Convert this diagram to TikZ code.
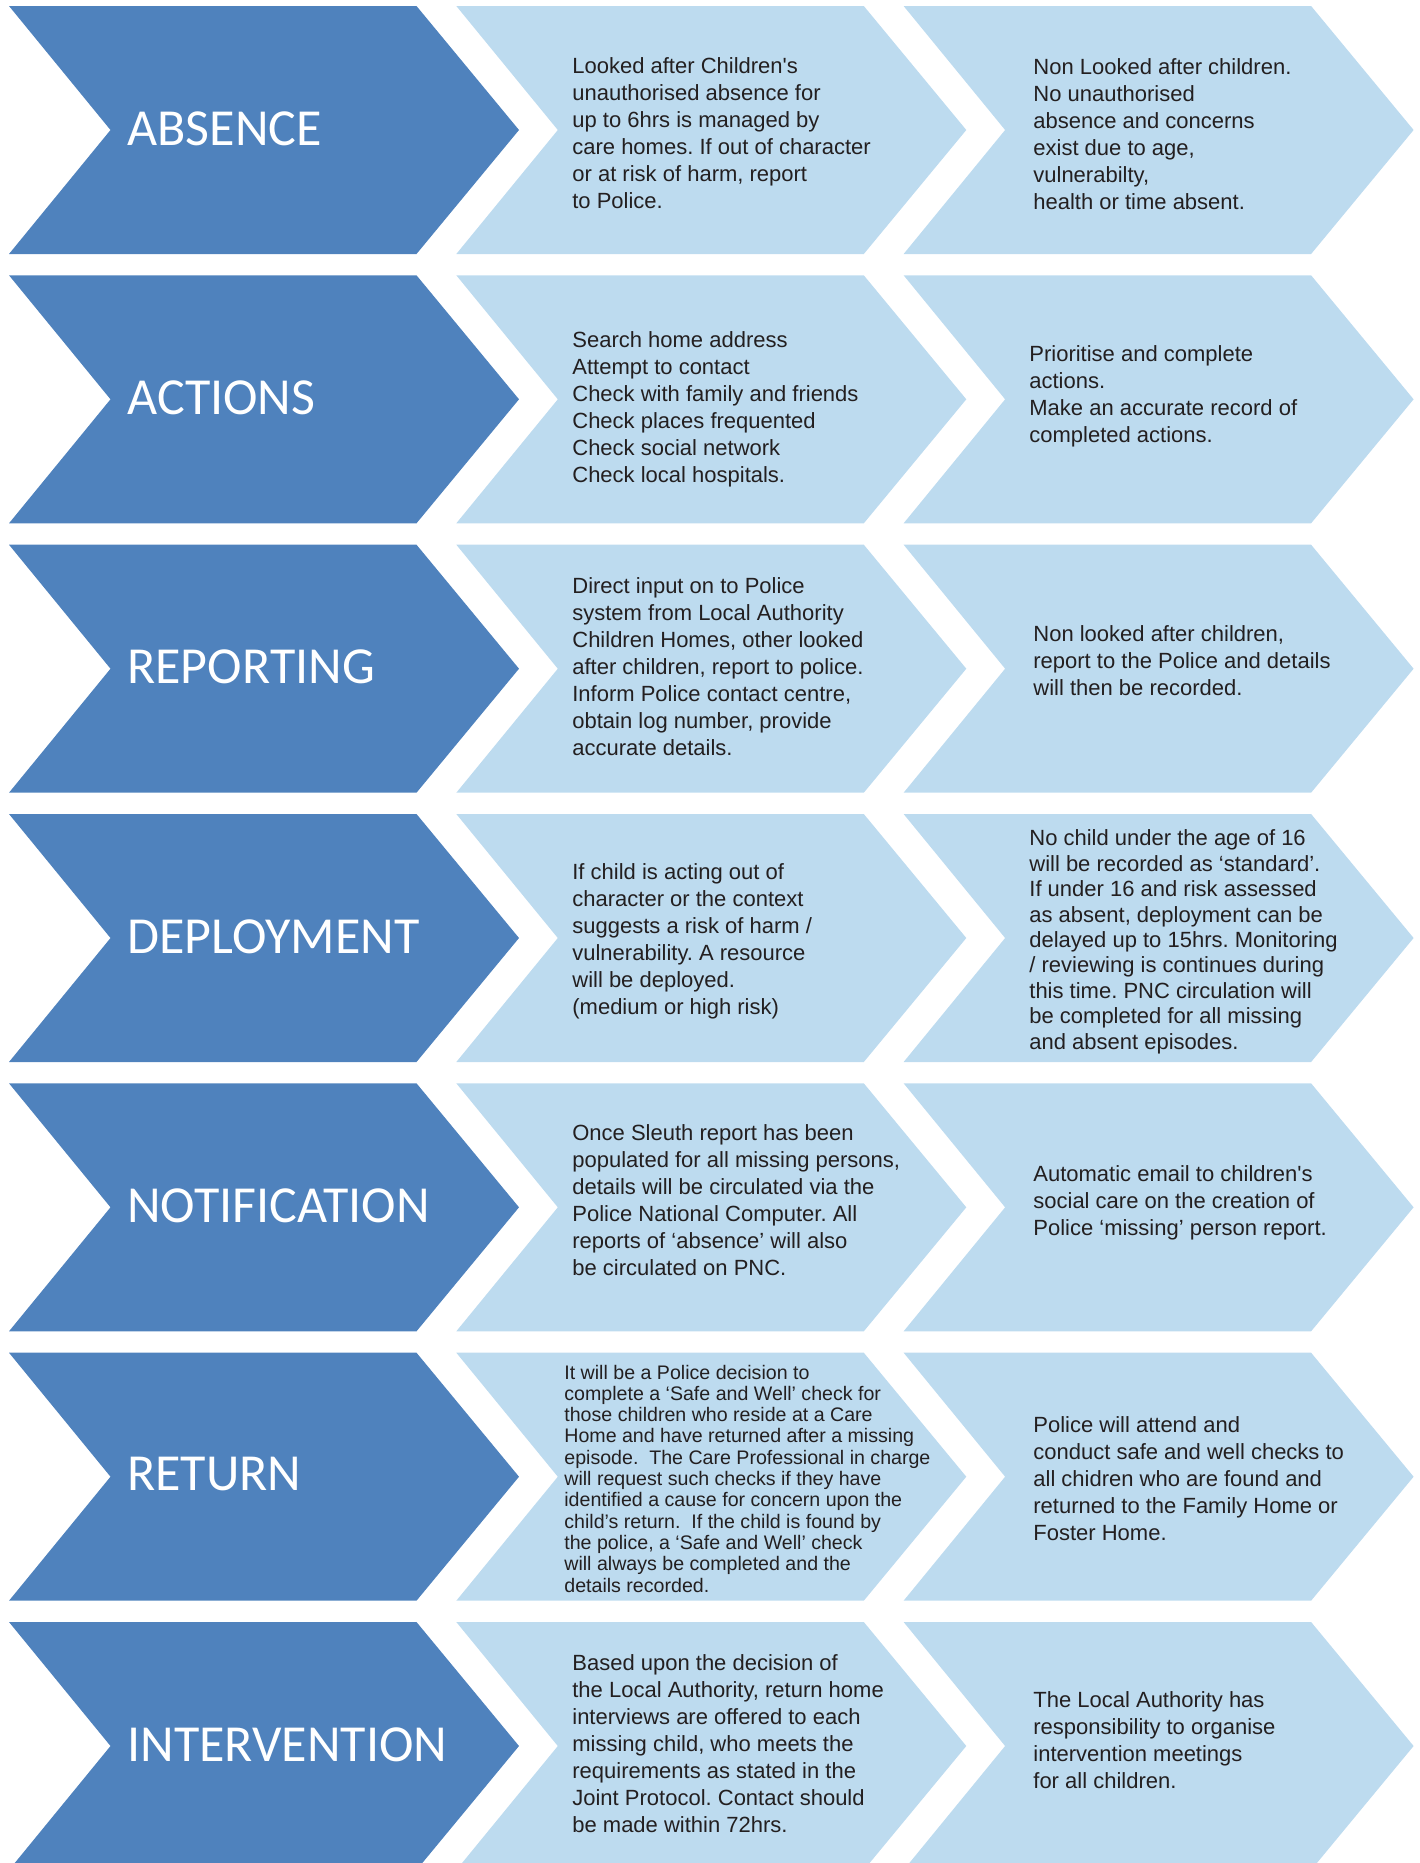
\documentclass[tikz,border=0pt]{standalone}
\usepackage{tikz}
\usepackage{fontspec}
\setmainfont{Liberation Sans}
\newfontfamily\headfont{Carlito}
\frenchspacing
\definecolor{darkchev}{RGB}{79,130,189}
\definecolor{lightchev}{RGB}{189,219,239}
\definecolor{bodygray}{RGB}{35,31,32}
\tikzset{every picture/.style={line width=0.75pt}}
\tikzset{
  headchev/.style={fill=darkchev, draw=none},
  infochev/.style={fill=lightchev, draw=none},
  headlabel/.style={font=\headfont\fontsize{52}{52}\selectfont, text=white, inner sep=0pt, anchor=base west},
  infolabel/.style={font=\fontsize{22}{27}\selectfont, text=bodygray, align=left, inner sep=0pt, anchor=base west},
}

\begin{document}
\begin{tikzpicture}[x=1pt,y=1pt,yscale=-1,xscale=1]
		\useasboundingbox (0,0) rectangle (1420,1863);
		
		%Shape: Chevron [row: absence]
		\draw [headchev] (9,6) -- ++(407.5,0) -- ++(102.5,124) -- ++(-102.5,124) -- ++(-407.5,0) -- ++(101.5,-124) -- cycle ;
		\draw [infochev] (456.3,6) -- ++(407.5,0) -- ++(102.5,124) -- ++(-102.5,124) -- ++(-407.5,0) -- ++(101.5,-124) -- cycle ;
		\draw [infochev] (903.6,6) -- ++(407.5,0) -- ++(102.5,124) -- ++(-102.5,124) -- ++(-407.5,0) -- ++(101.5,-124) -- cycle ;
		%Shape: Chevron [row: actions]
		\draw [headchev] (9,275.3) -- ++(407.5,0) -- ++(102.5,124) -- ++(-102.5,124) -- ++(-407.5,0) -- ++(101.5,-124) -- cycle ;
		\draw [infochev] (456.3,275.3) -- ++(407.5,0) -- ++(102.5,124) -- ++(-102.5,124) -- ++(-407.5,0) -- ++(101.5,-124) -- cycle ;
		\draw [infochev] (903.6,275.3) -- ++(407.5,0) -- ++(102.5,124) -- ++(-102.5,124) -- ++(-407.5,0) -- ++(101.5,-124) -- cycle ;
		%Shape: Chevron [row: reporting]
		\draw [headchev] (9,544.7) -- ++(407.5,0) -- ++(102.5,124) -- ++(-102.5,124) -- ++(-407.5,0) -- ++(101.5,-124) -- cycle ;
		\draw [infochev] (456.3,544.7) -- ++(407.5,0) -- ++(102.5,124) -- ++(-102.5,124) -- ++(-407.5,0) -- ++(101.5,-124) -- cycle ;
		\draw [infochev] (903.6,544.7) -- ++(407.5,0) -- ++(102.5,124) -- ++(-102.5,124) -- ++(-407.5,0) -- ++(101.5,-124) -- cycle ;
		%Shape: Chevron [row: deployment]
		\draw [headchev] (9,814) -- ++(407.5,0) -- ++(102.5,124) -- ++(-102.5,124) -- ++(-407.5,0) -- ++(101.5,-124) -- cycle ;
		\draw [infochev] (456.3,814) -- ++(407.5,0) -- ++(102.5,124) -- ++(-102.5,124) -- ++(-407.5,0) -- ++(101.5,-124) -- cycle ;
		\draw [infochev] (903.6,814) -- ++(407.5,0) -- ++(102.5,124) -- ++(-102.5,124) -- ++(-407.5,0) -- ++(101.5,-124) -- cycle ;
		%Shape: Chevron [row: notification]
		\draw [headchev] (9,1083.3) -- ++(407.5,0) -- ++(102.5,124) -- ++(-102.5,124) -- ++(-407.5,0) -- ++(101.5,-124) -- cycle ;
		\draw [infochev] (456.3,1083.3) -- ++(407.5,0) -- ++(102.5,124) -- ++(-102.5,124) -- ++(-407.5,0) -- ++(101.5,-124) -- cycle ;
		\draw [infochev] (903.6,1083.3) -- ++(407.5,0) -- ++(102.5,124) -- ++(-102.5,124) -- ++(-407.5,0) -- ++(101.5,-124) -- cycle ;
		%Shape: Chevron [row: return]
		\draw [headchev] (9,1352.7) -- ++(407.5,0) -- ++(102.5,124) -- ++(-102.5,124) -- ++(-407.5,0) -- ++(101.5,-124) -- cycle ;
		\draw [infochev] (456.3,1352.7) -- ++(407.5,0) -- ++(102.5,124) -- ++(-102.5,124) -- ++(-407.5,0) -- ++(101.5,-124) -- cycle ;
		\draw [infochev] (903.6,1352.7) -- ++(407.5,0) -- ++(102.5,124) -- ++(-102.5,124) -- ++(-407.5,0) -- ++(101.5,-124) -- cycle ;
		%Shape: Chevron [row: intervention]
		\draw [headchev] (9,1622) -- ++(407.5,0) -- ++(102.5,124) -- ++(-102.5,124) -- ++(-407.5,0) -- ++(101.5,-124) -- cycle ;
		\draw [infochev] (456.3,1622) -- ++(407.5,0) -- ++(102.5,124) -- ++(-102.5,124) -- ++(-407.5,0) -- ++(101.5,-124) -- cycle ;
		\draw [infochev] (903.6,1622) -- ++(407.5,0) -- ++(102.5,124) -- ++(-102.5,124) -- ++(-407.5,0) -- ++(101.5,-124) -- cycle ;
		
		%Headings
		\node [headlabel] (absence) at (127,145) {ABSENCE};
		\node [headlabel] (actions) at (127,414.3) {ACTIONS};
		\node [headlabel] (reporting) at (127,683.7) {REPORTING};
		\node [headlabel] (deployment) at (127,953) {DEPLOYMENT};
		\node [headlabel] (notification) at (127,1222.3) {NOTIFICATION};
		\node [headlabel] (return) at (127,1490.7) {RETURN};
		\node [headlabel] (intervention) at (127,1761) {INTERVENTION};
		
		%Text: absence (anchored at the last line)
		\node [infolabel] (absencelac) at (572,208) {Looked after Children\textquotesingle s\\unauthorised absence for\\up to 6hrs is managed by\\care homes. If out of character\\or at risk of harm, report\\to Police.};
		\node [infolabel] (absencenon) at (1033,209) {Non Looked after children.\\No unauthorised\\absence and concerns\\exist due to age,\\vulnerabilty,\\health or time absent.};
		
		%Text: actions
		\node [infolabel] (actionslist) at (572,482) {Search home address\\Attempt to contact\\Check with family and friends\\Check places frequented\\Check social network\\Check local hospitals.};
		\node [infolabel] (actionsrecord) at (1029,442) {Prioritise and complete\\actions.\\Make an accurate record of\\completed actions.};
		
		%Text: reporting
		\node [infolabel] (reportinglac) at (572,755) {Direct input on to Police\\system from Local Authority\\Children Homes, other looked\\after children, report to police.\\Inform Police contact centre,\\obtain log number, provide\\accurate details.};
		\node [infolabel] (reportingnon) at (1033,695.7) {Non looked after children,\\report to the Police and details\\will then be recorded.};
		
		%Text: deployment
		\node [infolabel] (deploymentrisk) at (572,1014) {If child is acting out of\\character or the context\\suggests a risk of harm /\\vulnerability. A resource\\will be deployed.\\(medium or high risk)};
		\node [infolabel, font=\fontsize{22}{25.4}\selectfont] (deploymentage) at (1029,1049) {No child under the age of 16\\will be recorded as ‘standard’.\\If under 16 and risk assessed\\as absent, deployment can be\\delayed up to 15hrs. Monitoring\\/ reviewing is continues during\\this time. PNC circulation will\\be completed for all missing\\and absent episodes.};
		
		%Text: notification
		\node [infolabel] (notificationpnc) at (572,1275) {Once Sleuth report has been\\populated for all missing persons,\\details will be circulated via the\\Police National Computer. All\\reports of ‘absence’ will also\\be circulated on PNC.};
		\node [infolabel] (notificationemail) at (1033,1235.7) {Automatic email to children\textquotesingle s\\social care on the creation of\\Police ‘missing’ person report.};
		
		%Text: return
		\node [infolabel, font=\fontsize{19.6}{21.3}\selectfont] (returncare) at (564,1592) {It will be a Police decision to\\complete a ‘Safe and Well’ check for\\those children who reside at a Care\\Home and have returned after a missing\\episode.\ \ The Care Professional in charge\\will request such checks if they have\\identified a cause for concern upon the\\child’s return.\ \ If the child is found by\\the police, a ‘Safe and Well’ check\\will always be completed and the\\details recorded.};
		\node [infolabel] (returnfamily) at (1033,1540.7) {Police will attend and\\conduct safe and well checks to\\all chidren who are found and\\returned to the Family Home or\\Foster Home.};
		
		%Text: intervention
		\node [infolabel] (interventionla) at (572,1832.7) {Based upon the decision of\\the Local Authority, return home\\interviews are offered to each\\missing child, who meets the\\requirements as stated in the\\Joint Protocol. Contact should\\be made within 72hrs.};
		\node [infolabel] (interventionall) at (1033,1788) {The Local Authority has\\responsibility to organise\\intervention meetings\\for all children.};
		
\end{tikzpicture}
\end{document}
